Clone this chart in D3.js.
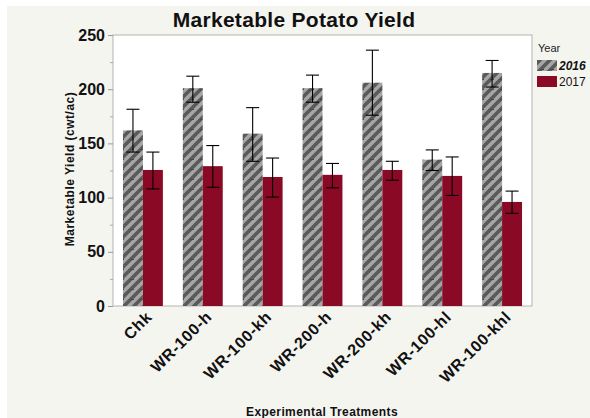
<!DOCTYPE html>
<html><head><meta charset="utf-8">
<script src="https://cdn.jsdelivr.net/npm/d3@7"></script>
<style>body{margin:0;background:#fff;}svg{display:block;font-family:"Liberation Sans",Arial,sans-serif;}</style>
</head><body>
<svg id="c" width="590" height="418"></svg>
<script>
const categories = ["Chk","WR-100-h","WR-100-kh","WR-200-h","WR-200-kh","WR-100-hl","WR-100-khl"];
const years = ["2016","2017"];
const mean2016 = [162, 201, 159, 201, 206, 135, 215];
const low2016  = [142, 188, 133.5, 188, 176, 125, 202];
const high2016 = [181.5, 212, 183, 213, 236, 144, 226.5];
const mean2017 = [125.5, 129, 119, 121, 125.5, 120, 96];
const low2017  = [108, 109.5, 100.5, 109, 116, 102, 85.5];
const high2017 = [142, 148, 136.5, 131.5, 133.5, 137.5, 106];
const yTicks = [0, 50, 100, 150, 200, 250];
const yMinor = [25, 75, 125, 175, 225];

const svg = d3.select("#c");
const m = {l:113, t:35, w:419, h:271};

svg.append("rect").attr("x",7).attr("y",6).attr("width",583).attr("height",412).attr("fill","#f5f5f0");

const defs = svg.append("defs");
const pat = defs.append("pattern").attr("id","hatch").attr("patternUnits","userSpaceOnUse")
  .attr("width",10).attr("height",10);
pat.append("rect").attr("width",10).attr("height",10).attr("fill","#a6a6a6");
pat.append("path").attr("d","M-2,12 L12,-2 M-2,2 L2,-2 M8,12 L12,8").attr("stroke","#5a5a5a").attr("stroke-width",3.6);
pat.append("path").attr("d","M0,9.5 L4,9.5").attr("stroke","#4a4a4a").attr("stroke-width",1);

const x0 = d3.scaleBand().domain(categories).range([m.l, m.l+m.w]).paddingInner(1/3).paddingOuter(1/6);
const x1 = d3.scaleBand().domain(years).range([0, x0.bandwidth()]);
const y = d3.scaleLinear().domain([0,250]).range([m.t+m.h, m.t]);

svg.append("text").attr("x",294).attr("y",27).attr("text-anchor","middle")
  .attr("font-size",21).attr("font-weight","bold").attr("letter-spacing",0.3).attr("fill","#111").text("Marketable Potato Yield");

svg.append("rect").attr("x",m.l).attr("y",m.t).attr("width",m.w).attr("height",m.h)
  .attr("fill","#fff").attr("stroke","#b4b4b4").attr("stroke-width",1);

const series = [
  {year:"2016", mean:mean2016, lo:low2016, hi:high2016, fill:"url(#hatch)"},
  {year:"2017", mean:mean2017, lo:low2017, hi:high2017, fill:"#8a0a26"}
];
series.forEach(s => {
  categories.forEach((c,i) => {
    const bx = x0(c) + x1(s.year);
    svg.append("rect").attr("x",bx).attr("y",y(s.mean[i])).attr("width",x1.bandwidth())
      .attr("height",y(0)-y(s.mean[i])).attr("fill",s.fill);
  });
});
series.forEach(s => {
  categories.forEach((c,i) => {
    const cx = x0(c) + x1(s.year) + x1.bandwidth()/2;
    const g = svg.append("g").attr("stroke","#000").attr("stroke-width",1.1);
    g.append("line").attr("x1",cx).attr("x2",cx).attr("y1",y(s.hi[i])).attr("y2",y(s.lo[i]));
    g.append("line").attr("x1",cx-6.5).attr("x2",cx+6.5).attr("y1",y(s.hi[i])).attr("y2",y(s.hi[i]));
    g.append("line").attr("x1",cx-6.5).attr("x2",cx+6.5).attr("y1",y(s.lo[i])).attr("y2",y(s.lo[i]));
  });
});

// y axis
const ya = svg.append("g").attr("transform",`translate(${m.l},0)`)
  .call(d3.axisLeft(y).tickValues(yTicks).tickSize(5).tickPadding(3));
ya.select(".domain").remove();
ya.selectAll("line").attr("stroke","#999");
ya.selectAll("text").attr("font-size",16).attr("font-weight","bold").attr("fill","#111")
  .attr("font-family","Liberation Sans, Arial, sans-serif");
const ym = svg.append("g").attr("transform",`translate(${m.l},0)`)
  .call(d3.axisLeft(y).tickValues(yMinor).tickSize(3).tickFormat(""));
ym.select(".domain").remove();
ym.selectAll("line").attr("stroke","#aaa");

// x axis labels
const xa = svg.append("g").attr("transform",`translate(0,${m.t+m.h})`)
  .call(d3.axisBottom(x0).tickSize(0).tickPadding(0));
xa.select(".domain").remove();
xa.selectAll("text").attr("font-size",16).attr("font-weight","bold").attr("fill","#111")
  .attr("letter-spacing",0.6)
  .attr("font-family","Liberation Sans, Arial, sans-serif")
  .attr("text-anchor","end").attr("dy",null).attr("y",0)
  .attr("transform","translate(10,12) rotate(-45)");

svg.append("text").attr("transform","translate(74,169) rotate(-90)").attr("text-anchor","middle")
  .attr("font-size",12).attr("font-weight","bold").attr("letter-spacing",0.5).attr("fill","#111").text("Marketable Yield (cwt/ac)");
svg.append("text").attr("x",322).attr("y",416).attr("text-anchor","middle")
  .attr("font-size",12).attr("font-weight","bold").attr("letter-spacing",0.4).attr("fill","#111").text("Experimental Treatments");

// legend
const lg = svg.append("g");
lg.append("text").attr("x",538).attr("y",52).attr("font-size",11).attr("fill","#222").text("Year");
series.forEach((s,i) => {
  lg.append("rect").attr("x",537).attr("y",60+i*16).attr("width",20).attr("height",11).attr("fill",s.fill);
  lg.append("text").attr("x",559).attr("y",70+i*16).attr("font-size",12)
    .attr("font-weight", i===0?"bold":"normal").attr("font-style", i===0?"italic":"normal")
    .attr("fill","#111").text(s.year);
});
</script>
</body></html>
